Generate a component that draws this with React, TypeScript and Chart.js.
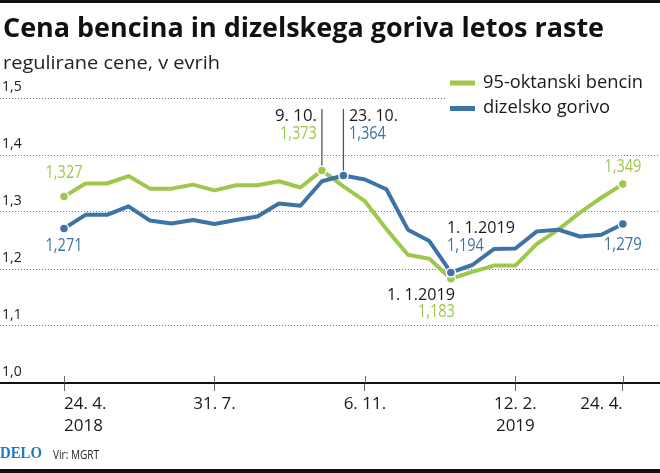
import React, { useEffect, useRef } from 'react';
import { Chart, registerables } from 'chart.js';

Chart.register(...registerables);

// ---- data (fortnightly regulated prices, EUR/litre) ----
const petrol = [
  1.327, 1.350, 1.350, 1.363, 1.341, 1.341, 1.348, 1.338, 1.347, 1.347,
  1.354, 1.343, 1.373, 1.345, 1.319, 1.270, 1.225, 1.218, 1.183, 1.195,
  1.206, 1.206, 1.244, 1.269, 1.299, 1.325, 1.349,
];
const diesel = [
  1.271, 1.295, 1.295, 1.310, 1.285, 1.280, 1.286, 1.279, 1.286, 1.292,
  1.315, 1.311, 1.354, 1.364, 1.357, 1.340, 1.269, 1.249, 1.194, 1.207,
  1.235, 1.236, 1.266, 1.269, 1.257, 1.260, 1.279,
];
const tickIndex = [0, 7, 14, 21, 26];
const tickLabels = [['24. 4.', '2018'], ['31. 7.'], ['6. 11.'], ['12. 2.', '2019'], ['24. 4.']];
const yTicks = [1.0, 1.1, 1.2, 1.3, 1.4, 1.5];
const petrolMarked = [0, 12, 18, 26];
const dieselMarked = [0, 13, 18, 26];
const peakDates = ['9. 10.', '23. 10.'];
const lowDate = '1. 1.2019';
const title = 'Cena bencina in dizelskega goriva letos raste';
const subtitle = 'regulirane cene, v evrih';
const seriesNames = ['95-oktanski bencin', 'dizelsko gorivo'];
const brand = 'DELO';
const source = 'Vir: MGRT';

const GREEN = '#9dc84c';
const BLUE = '#3d73a6';
const INK = '#1a1a1a';
const FONT = '"Open Sans", "Noto Sans", sans-serif';

const fmt = (v: number) => v.toFixed(3).replace('.', ',');

function txt(
  ctx: CanvasRenderingContext2D,
  s: string,
  x: number,
  y: number,
  font: string,
  color: string,
  align: 'left' | 'right' | 'center',
  width?: number,
  baseline: CanvasTextBaseline = 'middle'
) {
  ctx.save();
  ctx.font = font;
  ctx.fillStyle = color;
  ctx.textBaseline = baseline;
  ctx.textAlign = 'left';
  const m = ctx.measureText(s).width;
  const sx = width ? width / m : 1;
  const tw = m * sx;
  const left = align === 'left' ? x : align === 'right' ? x - tw : x - tw / 2;
  ctx.translate(left, y);
  ctx.scale(sx, 1);
  ctx.fillText(s, 0, 0);
  ctx.restore();
}

const decor = {
  id: 'decor',
  afterDraw(chart: any) {
    const ctx: CanvasRenderingContext2D = chart.ctx;
    const W = chart.width;
    const xs = chart.scales.x;
    const area = chart.chartArea;
    ctx.save();

    // frame bars
    ctx.fillStyle = '#111';
    ctx.fillRect(0, 0, W, 3);
    ctx.fillRect(0, 469, W, 4);

    // title + subtitle
    txt(ctx, title, 3, 37, `bold 26px ${FONT}`, '#111', 'left', 601, 'alphabetic');
    txt(ctx, subtitle, 3, 69, `18px ${FONT}`, '#222', 'left', 217, 'alphabetic');

    // tick marks above the axis
    ctx.strokeStyle = '#666';
    ctx.lineWidth = 1;
    tickIndex.forEach((v) => {
      const px = Math.round(xs.getPixelForValue(v)) + 0.5;
      ctx.beginPath();
      ctx.moveTo(px, area.bottom - 7);
      ctx.lineTo(px, area.bottom);
      ctx.stroke();
    });

    // legend
    ctx.fillStyle = '#fff';
    ctx.fillRect(446, 68, 214, 54);
    ctx.lineCap = 'butt';
    ctx.lineWidth = 5;
    ctx.strokeStyle = GREEN;
    ctx.beginPath(); ctx.moveTo(450, 83); ctx.lineTo(475, 83); ctx.stroke();
    ctx.strokeStyle = BLUE;
    ctx.beginPath(); ctx.moveTo(450, 108.5); ctx.lineTo(475, 108.5); ctx.stroke();
    txt(ctx, seriesNames[0], 483, 83, `18px ${FONT}`, INK, 'left', 160);
    txt(ctx, seriesNames[1], 483, 108, `18px ${FONT}`, INK, 'left', 127);

    // annotations
    const pMeta = chart.getDatasetMeta(1).data;
    const dMeta = chart.getDatasetMeta(0).data;
    const numFont = `17.5px ${FONT}`;
    const dateFont = `17px ${FONT}`;

    // first points
    const p0 = pMeta[0], d0 = dMeta[0];
    txt(ctx, fmt(petrol[0]), p0.x, p0.y - 23.5, numFont, GREEN, 'center', 37);
    txt(ctx, fmt(diesel[0]), d0.x, d0.y + 17, numFont, BLUE, 'center', 37);

    // peaks
    const pk = pMeta[12], dk = dMeta[13];
    ctx.strokeStyle = '#555';
    ctx.lineWidth = 1.3;
    ctx.beginPath(); ctx.moveTo(pk.x, 109); ctx.lineTo(pk.x, pk.y - 5); ctx.stroke();
    ctx.beginPath(); ctx.moveTo(dk.x, 109); ctx.lineTo(dk.x, dk.y - 5); ctx.stroke();
    txt(ctx, peakDates[0], pk.x - 5, 115.8, dateFont, INK, 'right', 42);
    txt(ctx, fmt(petrol[12]), pk.x - 5, 134, numFont, GREEN, 'right', 37);
    txt(ctx, peakDates[1], dk.x + 5.5, 115.8, dateFont, INK, 'left', 49);
    txt(ctx, fmt(diesel[13]), dk.x + 5.5, 134, numFont, BLUE, 'left', 37);

    // lows
    const pl = pMeta[18], dl = dMeta[18];
    txt(ctx, lowDate, dl.x - 4, dl.y - 44.6, dateFont, INK, 'left', 68);
    txt(ctx, fmt(diesel[18]), dl.x - 4, dl.y - 26, numFont, BLUE, 'left', 37);
    txt(ctx, lowDate, pl.x + 4, pl.y + 16, dateFont, INK, 'right', 68);
    txt(ctx, fmt(petrol[18]), pl.x + 4, pl.y + 33.5, numFont, GREEN, 'right', 37);

    // last points
    const pe = pMeta[26], de = dMeta[26];
    txt(ctx, fmt(petrol[26]), pe.x, pe.y - 17, numFont, GREEN, 'center', 37);
    txt(ctx, fmt(diesel[26]), de.x, de.y + 21.5, numFont, BLUE, 'center', 38);

    // footer
    txt(ctx, brand, 0, 454, 'bold 17px "Liberation Serif", "DejaVu Serif", serif', '#1f7bbf', 'left', 42);
    txt(ctx, source, 53, 455, `13px ${FONT}`, '#222', 'left', 46);

    ctx.restore();
  },
};

export default function App() {
  const ref = useRef<HTMLCanvasElement | null>(null);

  useEffect(() => {
    if (!ref.current) return;
    const chart = new Chart(ref.current, {
      type: 'line',
      data: {
        datasets: [
          {
            label: seriesNames[1],
            data: diesel.map((v, i) => ({ x: i, y: v })),
            borderColor: BLUE,
            backgroundColor: BLUE,
            borderWidth: 4,
            borderJoinStyle: 'round',
            tension: 0,
            pointRadius: diesel.map((_, i) => (dieselMarked.includes(i) ? 4.5 : 0)),
            pointBorderColor: '#fff',
            pointBorderWidth: 1.5,
            pointHoverRadius: 0,
            clip: false,
          },
          {
            label: seriesNames[0],
            data: petrol.map((v, i) => ({ x: i, y: v })),
            borderColor: GREEN,
            backgroundColor: GREEN,
            borderWidth: 4,
            borderJoinStyle: 'round',
            tension: 0,
            pointRadius: petrol.map((_, i) => (petrolMarked.includes(i) ? 4.5 : 0)),
            pointBorderColor: '#fff',
            pointBorderWidth: 1.5,
            pointHoverRadius: 0,
            clip: false,
          },
        ],
      },
      options: {
        animation: false,
        responsive: false,
        maintainAspectRatio: false,
        events: [],
        layout: { autoPadding: false, padding: { top: 98, left: 0, right: 0, bottom: 34 } },
        plugins: {
          legend: { display: false },
          tooltip: { enabled: false },
          title: { display: false },
        },
        scales: {
          x: {
            type: 'linear',
            min: -2.978,
            max: 27.73,
            afterBuildTicks: (s: any) => {
              s.ticks = tickIndex.map((v) => ({ value: v }));
            },
            afterFit: (s: any) => {
              s.paddingLeft = 0;
              s.paddingRight = 0;
            },
            ticks: {
              autoSkip: false,
              maxRotation: 0,
              align: 'inner',
              padding: 2,
              color: INK,
              font: { family: FONT, size: 17, lineHeight: 22 / 17 },
              callback: (_v: any, i: number) => tickLabels[i],
            },
            grid: {
              drawOnChartArea: false,
              drawTicks: true,
              tickLength: 8,
              color: '#666',
              lineWidth: 1,
            },
            border: { display: true, color: '#111', width: 2 },
          },
          y: {
            min: 1.0,
            max: 1.5,
            afterBuildTicks: (s: any) => {
              s.ticks = yTicks.map((v) => ({ value: v }));
            },
            afterFit: (s: any) => {
              s.width = 0;
              s.paddingTop = 0;
              s.paddingBottom = 0;
            },
            ticks: {
              mirror: true,
              padding: 2,
              labelOffset: -11,
              color: INK,
              font: { family: FONT, size: 14 },
              callback: (v: any) => Number(v).toFixed(1).replace('.', ','),
            },
            grid: {
              drawTicks: false,
              color: (c: any) => (c.tick && c.tick.value === 1 ? 'rgba(0,0,0,0)' : '#7a7a7a'),
              lineWidth: 1,
            },
            border: { display: false, dash: [1, 2] },
          },
        },
      },
      plugins: [decor],
    } as any);
    return () => chart.destroy();
  }, []);

  return (
    <div style={{ position: 'absolute', left: 0, top: 0, width: 660, height: 473, background: '#fff' }}>
      <canvas ref={ref} width={660} height={473} style={{ display: 'block', width: 660, height: 473 }} />
    </div>
  );
}
